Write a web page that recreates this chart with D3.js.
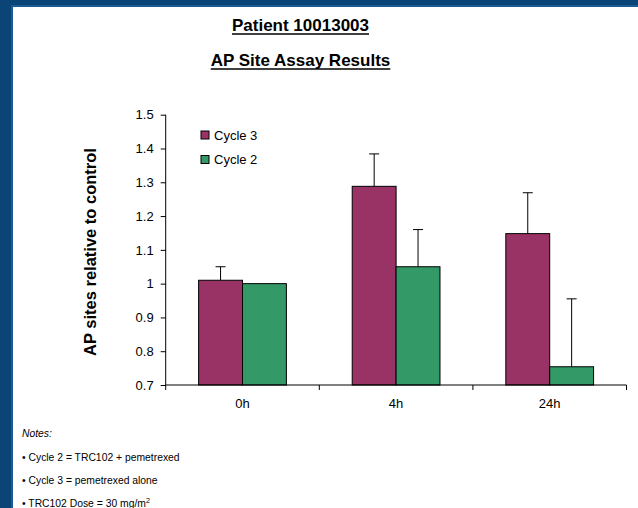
<!DOCTYPE html>
<html>
<head>
<meta charset="utf-8">
<script src="https://cdn.jsdelivr.net/npm/d3@7"></script>
<style>
  html, body { margin: 0; padding: 0; background: #0b4477; }
  svg { display: block; font-family: "Liberation Sans", Arial, sans-serif; }
</style>
</head>
<body>
<div id="chart"></div>
<script>
// chart values
const timepoints = ["0h", "4h", "24h"];
const seriesNames = ["Cycle 3", "Cycle 2"];
const cycle3Values = [1.01, 1.288, 1.148];
const cycle3ErrorTop = [1.05, 1.384, 1.269];
const cycle2Values = [1.0, 1.05, 0.754];
const cycle2ErrorTop = [1.0, 1.16, 0.955];
const yTicks = [0.7, 0.8, 0.9, 1.0, 1.1, 1.2, 1.3, 1.4, 1.5];
const notes = ["Cycle 2 = TRC102 + pemetrexed", "Cycle 3 = pemetrexed alone"];

const width = 638, height = 508;
const colors = ["#993366", "#339966"];

const svg = d3.select("#chart").append("svg")
    .attr("width", width)
    .attr("height", height);

// slide frame
svg.append("rect").attr("width", width).attr("height", height).attr("fill", "#0b4477");
svg.append("rect").attr("x", 11).attr("y", 5).attr("width", width - 11).attr("height", height - 5).attr("fill", "#1d5b98");
svg.append("rect").attr("x", 13).attr("y", 7).attr("width", width - 13).attr("height", height - 7).attr("fill", "#ffffff");

// titles
const titles = [["Patient 10013003", 31], ["AP Site Assay Results", 66]];
titles.forEach(([t, y]) => {
    const txt = svg.append("text")
        .attr("x", 300.5).attr("y", y)
        .attr("text-anchor", "middle")
        .attr("font-size", 17).attr("font-weight", "bold")
        .attr("fill", "#000")
        .text(t);
    const bb = txt.node().getBBox();
    svg.append("line")
        .attr("x1", bb.x).attr("x2", bb.x + bb.width)
        .attr("y1", y + 3).attr("y2", y + 3)
        .attr("stroke", "#000").attr("stroke-width", 1.3);
});

const plot = { left: 165.7, right: 626.5, top: 114.7, bottom: 385 };

const x = d3.scaleBand()
    .domain(timepoints)
    .range([plot.left, plot.right]);

const barW = x.bandwidth() / 3.5; // excel gap width 150%

const y = d3.scaleLinear()
    .domain([0.7, 1.5])
    .range([plot.bottom, plot.top]);

const data = [];
timepoints.forEach((t, i) => {
    data.push({ t: t, s: 0, v: cycle3Values[i], e: cycle3ErrorTop[i] });
    data.push({ t: t, s: 1, v: cycle2Values[i], e: cycle2ErrorTop[i] });
});

const barX = d => x(d.t) + x.bandwidth() / 2 - barW + d.s * barW;

// bars
svg.selectAll(".bar")
    .data(data).enter()
    .append("rect")
    .attr("class", "bar")
    .attr("x", barX)
    .attr("y", d => y(d.v))
    .attr("width", barW)
    .attr("height", d => y(0.7) - y(d.v))
    .attr("fill", d => colors[d.s])
    .attr("stroke", "#000")
    .attr("stroke-width", 1);

// error bars (upper only)
const err = svg.selectAll(".err")
    .data(data.filter(d => d.e > d.v)).enter()
    .append("g")
    .attr("class", "err")
    .attr("stroke", "#000")
    .attr("stroke-width", 1);

err.append("line")
    .attr("x1", d => barX(d) + barW / 2).attr("x2", d => barX(d) + barW / 2)
    .attr("y1", d => y(d.v)).attr("y2", d => y(d.e));
err.append("line")
    .attr("x1", d => barX(d) + barW / 2 - 5).attr("x2", d => barX(d) + barW / 2 + 5)
    .attr("y1", d => y(d.e)).attr("y2", d => y(d.e));

// y axis
const yAxis = svg.append("g")
    .attr("transform", "translate(" + plot.left + ",0)")
    .call(d3.axisLeft(y).tickValues(yTicks).tickSize(5).tickPadding(7)
        .tickFormat(d => +d.toFixed(1)));
yAxis.selectAll("text").attr("font-size", 13).attr("font-family", "Liberation Sans, Arial, sans-serif").attr("fill", "#000");
yAxis.select(".domain").attr("d", "M0," + plot.top + "V" + plot.bottom);

// x axis
const xAxis = svg.append("g")
    .attr("transform", "translate(0," + plot.bottom + ")")
    .call(d3.axisBottom(x).tickSize(0).tickPadding(14));
xAxis.selectAll("text").attr("font-size", 13).attr("font-family", "Liberation Sans, Arial, sans-serif").attr("fill", "#000");
xAxis.select(".domain").attr("d", "M" + plot.left + ",0H" + plot.right);
// category separators
xAxis.selectAll(".sep")
    .data(timepoints.concat(["end"])).enter()
    .append("line")
    .attr("class", "sep")
    .attr("x1", (d, i) => plot.left + i * x.step()).attr("x2", (d, i) => plot.left + i * x.step())
    .attr("y1", 0).attr("y2", 5)
    .attr("stroke", "#000");

// y title
svg.append("text")
    .attr("transform", "translate(96,252) rotate(-90)")
    .attr("text-anchor", "middle")
    .attr("font-size", 16.5).attr("font-weight", "bold")
    .attr("fill", "#000")
    .text("AP sites relative to control");

// legend
const legend = svg.selectAll(".legend")
    .data(seriesNames).enter()
    .append("g")
    .attr("class", "legend")
    .attr("transform", (d, i) => "translate(201," + (135 + i * 24.5) + ")");
legend.append("rect")
    .attr("x", 0).attr("y", -4).attr("width", 8).attr("height", 8)
    .attr("fill", (d, i) => colors[i])
    .attr("stroke", "#000").attr("stroke-width", 1);
legend.append("text")
    .attr("x", 13).attr("y", 4.5)
    .attr("font-size", 13).attr("fill", "#000")
    .text(d => d);

// notes (slightly condensed like the slide font)
const notesG = svg.append("g")
    .attr("transform", "translate(22,0) scale(0.9,1)");
notesG.append("text")
    .attr("x", 0).attr("y", 437)
    .attr("font-size", 11.5).attr("font-style", "italic").attr("fill", "#000")
    .text("Notes:");
notesG.selectAll(".note")
    .data(notes).enter()
    .append("text")
    .attr("class", "note")
    .attr("x", 0).attr("y", (d, i) => 461 + i * 23)
    .attr("font-size", 11.5).attr("fill", "#000")
    .text(d => "\u2022 " + d);
const dose = notesG.append("text")
    .attr("x", 0).attr("y", 507)
    .attr("font-size", 11.5).attr("fill", "#000");
dose.append("tspan").text("\u2022 TRC102 Dose = 30 mg/m");
dose.append("tspan").attr("font-size", 8).attr("dy", -4).text("2");
</script>
</body>
</html>
